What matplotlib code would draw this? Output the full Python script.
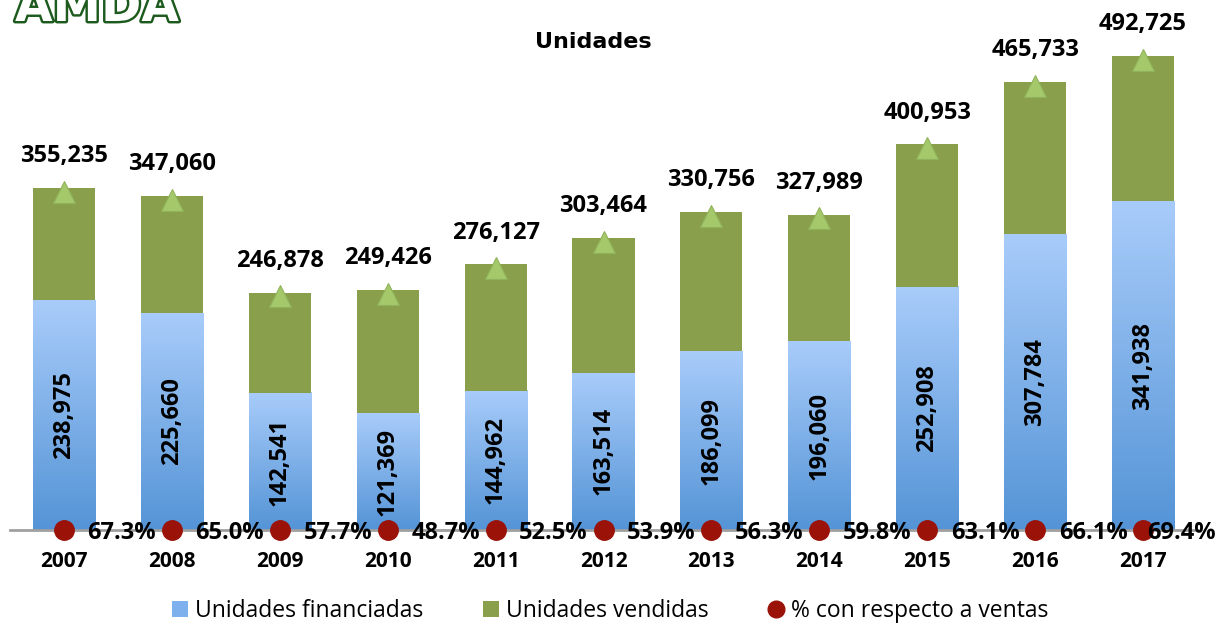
import numpy as np
import matplotlib.pyplot as plt
import matplotlib.patheffects as pe
from matplotlib.lines import Line2D
from matplotlib.patches import Patch

years = ['2007', '2008', '2009', '2010', '2011', '2012',
         '2013', '2014', '2015', '2016', '2017']
vendidas = [355235, 347060, 246878, 249426, 276127, 303464,
            330756, 327989, 400953, 465733, 492725]
financiadas = [238975, 225660, 142541, 121369, 144962, 163514,
               186099, 196060, 252908, 307784, 341938]
porcentaje = [67.3, 65.0, 57.7, 48.7, 52.5, 53.9,
              56.3, 59.8, 63.1, 66.1, 69.4]

plt.rcParams['font.family'] = ['Open Sans', 'DejaVu Sans']

blue_top = np.array([0.66, 0.80, 0.98])
blue_bot = np.array([0.33, 0.58, 0.84])
green = '#8a9f4b'
tri_col = '#a4c86a'
dot_col = '#9a1208'

fig = plt.figure(figsize=(12.21, 6.26), dpi=100)
W, H = 1221, 626
ax = fig.add_axes([10 / W, (H - 530) / H, 1187 / W, 500 / H])

x = np.arange(len(years))
width = 0.575
ymax = 520000

# stacked bars: blue part with a vertical gradient, green part on top
shade = np.linspace(0, 1, 256)
img = np.zeros((256, 1, 3))
for k in range(3):
    img[:, 0, k] = blue_top[k] + (blue_bot[k] - blue_top[k]) * shade
for i in range(len(years)):
    f = financiadas[i]
    t = vendidas[i]
    ax.imshow(img, extent=[i - width / 2, i + width / 2, 0, f],
              aspect='auto', origin='upper', zorder=2)
    ax.bar(i, t - f, width, bottom=f, color=green, zorder=2)

# triangles at totals
ax.plot(x, np.array(vendidas) - 4000, linestyle='none', marker='^',
        markersize=16, color=tri_col, markeredgecolor='#8fb35a',
        markeredgewidth=0.8, zorder=4)

# red dots on the baseline
ax.plot(x, np.zeros(len(x)), linestyle='none', marker='o', markersize=14,
        color=dot_col, zorder=5, clip_on=False)

for i in range(len(years)):
    ax.annotate(f'{vendidas[i]:,}', (i, vendidas[i]), xytext=(0, 23),
                textcoords='offset points', ha='center', va='center',
                fontsize=17, fontweight='bold', annotation_clip=False)
    ax.text(i, financiadas[i] / 2, f'{financiadas[i]:,}', rotation=90,
            ha='center', va='center', fontsize=17, fontweight='bold', zorder=6)
    dx = 17 if i < len(years) - 1 else 3
    ax.annotate(f'{porcentaje[i]:.1f}%', (i, 0), xytext=(dx, -2),
                textcoords='offset points', ha='left', va='center',
                fontsize=17, fontweight='bold', zorder=6,
                annotation_clip=False)
    ax.annotate(years[i], (i, 0), xytext=(0, -23),
                textcoords='offset points', ha='center', va='center',
                fontsize=15, fontweight='bold', annotation_clip=False)

ax.set_xlim(-0.5, len(years) - 0.5)
ax.set_ylim(0, ymax)
for s in ['top', 'right', 'left']:
    ax.spines[s].set_visible(False)
ax.spines['bottom'].set_color('#a0a0a0')
ax.spines['bottom'].set_linewidth(2)
ax.spines['bottom'].set_zorder(3)
ax.set_xticks([])
ax.set_yticks([])

fig.text(593 / W, 1 - 42 / H, 'Unidades', ha='center', va='center',
         fontsize=16, fontweight='bold', family=['DejaVu Sans'])

# logo (top of it falls outside the picture, as in the original)
fig.text(15 / W, 1 - 21 / H, 'AMDA', ha='left', va='baseline',
         fontsize=35, fontweight='bold', color='white', family=['DejaVu Sans'],
         path_effects=[pe.withStroke(linewidth=3.5, foreground='#1d5a1d')])

handles = [Patch(facecolor='#7fb0ee', edgecolor='none'),
           Patch(facecolor=green, edgecolor='none'),
           Line2D([], [], linestyle='none', marker='o', markersize=12,
                  color=dot_col)]
labels = ['Unidades financiadas', 'Unidades vendidas', '% con respecto a ventas']
fig.legend(handles, labels, loc='center', bbox_to_anchor=(610 / W, 1 - 611 / H),
           ncol=3, frameon=False, fontsize=16.5, handlelength=0.7,
           handleheight=0.7, handletextpad=0.3, columnspacing=2.6)

fig.savefig('out.png', dpi=100)
